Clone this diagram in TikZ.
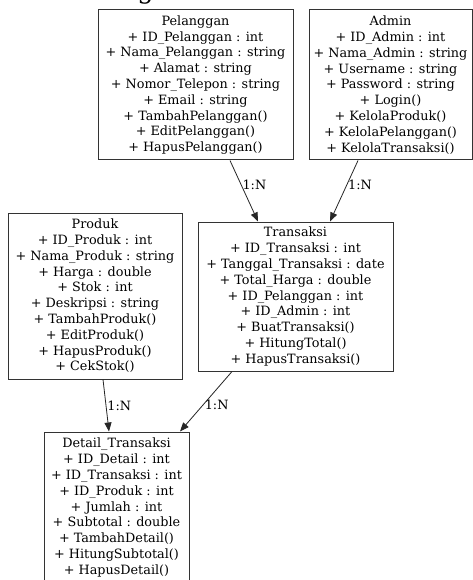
\documentclass[tikz,border=0pt]{standalone}
\usepackage{fontspec}
\setmainfont{DejaVu Serif}
\usetikzlibrary{arrows.meta}
\begin{document}
\begin{tikzpicture}[x=1pt,y=-1pt,
  kelas/.style={draw=black!80, line width=1pt, align=center, inner sep=0pt,
    font=\fontsize{12.8}{15.8}\selectfont},
  relasi/.style={draw=black!85, line width=0.8pt, -{Triangle[length=9pt,width=7pt]}},
  kard/.style={anchor=west, inner sep=1pt, font=\fontsize{12.8}{14}\selectfont}]
\useasboundingbox (0,0) rectangle (473,580);
\clip (0,0) rectangle (473,580);
\fill[white] (0,0) rectangle (473,580);

\node[anchor=base west, inner sep=0pt, font=\fontsize{26}{30}\selectfont] (judul) at (14,-1.8) {Class Diagram};

\node[kelas, minimum width=195pt, minimum height=150pt] (pel) at (195.5,85)
  {Pelanggan\\+ ID\_Pelanggan : int\\+ Nama\_Pelanggan : string\\+ Alamat : string\\
   + Nomor\_Telepon : string\\+ Email : string\\+ TambahPelanggan()\\+ EditPelanggan()\\+ HapusPelanggan()};
\node[kelas, minimum width=163pt, minimum height=150pt] (adm) at (390.5,85)
  {Admin\\+ ID\_Admin : int\\+ Nama\_Admin : string\\+ Username : string\\+ Password : string\\
   + Login()\\+ KelolaProduk()\\+ KelolaPelanggan()\\+ KelolaTransaksi()};
\node[kelas, minimum width=174pt, minimum height=166pt] (pro) at (95,296)
  {Produk\\+ ID\_Produk : int\\+ Nama\_Produk : string\\+ Harga : double\\+ Stok : int\\
   + Deskripsi : string\\+ TambahProduk()\\+ EditProduk()\\+ HapusProduk()\\+ CekStok()};
\node[kelas, minimum width=195pt, minimum height=149pt] (tra) at (295.5,296.5)
  {Transaksi\\+ ID\_Transaksi : int\\+ Tanggal\_Transaksi : date\\+ Total\_Harga : double\\
   + ID\_Pelanggan : int\\+ ID\_Admin : int\\+ BuatTransaksi()\\+ HitungTotal()\\+ HapusTransaksi()};
\node[kelas, minimum width=145pt, minimum height=151pt] (det) at (116.5,507.5)
  {Detail\_Transaksi\\+ ID\_Detail : int\\+ ID\_Transaksi : int\\+ ID\_Produk : int\\+ Jumlah : int\\
   + Subtotal : double\\+ TambahDetail()\\+ HitungSubtotal()\\+ HapusDetail()};

% relasi 1:N
\foreach \dari/\dx/\ke/\kx/\p in {pel/34.5/tra/-37.5/0.4, adm/-32.5/tra/34.5/0.4,
                                  pro/8/det/-7.5/0.5, tra/-63.5/det/63.5/0.55}
  \draw[relasi] ([xshift=\dx pt]\dari.south) -- node[kard, pos=\p] {1:N} ([xshift=\kx pt]\ke.north);

\end{tikzpicture}
\end{document}
